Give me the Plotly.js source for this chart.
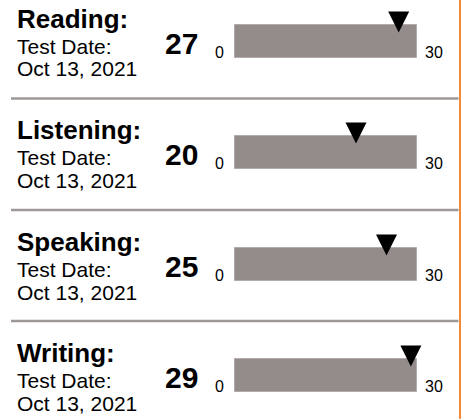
<!DOCTYPE html>
<html>
<head>
<meta charset="utf-8">
<script src="https://cdn.plot.ly/plotly-3.0.1.min.js"></script>
<style>
  html, body { margin: 0; padding: 0; background: #ffffff; }
  #chart { width: 461px; height: 419px; }
</style>
</head>
<body>
<div id="chart"></div>
<script>
// ---- data ----
var skills = ['Reading:', 'Listening:', 'Speaking:', 'Writing:'];
var scores = [27, 20, 25, 29];
var dateLabel = 'Test Date:';
var testDates = ['Oct 13, 2021', 'Oct 13, 2021', 'Oct 13, 2021', 'Oct 13, 2021'];
var scaleMin = 0;
var scaleMax = 30;

// ---- layout helpers ----
var W = 461, H = 419;
var FONT = 'Liberation Sans, Arial, Helvetica, sans-serif';
var barTops = [24, 135, 247, 358];
var barH = 34;
var sepY = [98.5, 210, 321];
function py(px) { return 1 - px / H; }
function px2x(px) { return px / W; }

var traces = [];
var layout = {
  width: W, height: H,
  margin: {l: 0, r: 0, t: 0, b: 0},
  paper_bgcolor: '#ffffff',
  plot_bgcolor: 'rgba(0,0,0,0)',
  showlegend: false,
  bargap: 0,
  annotations: [],
  shapes: []
};

skills.forEach(function (skill, i) {
  var n = i === 0 ? '' : String(i + 1);
  var xa = 'x' + n, ya = 'y' + n;
  var t = barTops[i];
  layout['xaxis' + n] = {
    domain: [px2x(234), px2x(417)],
    range: [scaleMin, scaleMax],
    anchor: ya,
    showgrid: false, zeroline: false, showticklabels: false, showline: false,
    ticks: '', fixedrange: true
  };
  layout['yaxis' + n] = {
    domain: [py(t + barH), py(t)],
    range: [-0.5, 0.5],
    anchor: xa,
    showgrid: false, zeroline: false, showticklabels: false, showline: false,
    ticks: '', fixedrange: true
  };
  traces.push({
    type: 'bar', orientation: 'h',
    x: [scaleMax], y: [0], base: scaleMin, width: 1,
    xaxis: xa, yaxis: ya,
    marker: {color: '#938c8a', line: {color: '#cfcac8', width: 1}},
    hoverinfo: 'skip'
  });
  traces.push({
    type: 'scatter', mode: 'markers',
    x: [scores[i]], y: [0.5 - 8.5 / barH],
    xaxis: xa, yaxis: ya,
    cliponaxis: false,
    marker: {symbol: 'arrow-down', size: 21, color: '#000000', line: {width: 0}},
    hoverinfo: 'skip'
  });

  // texts
  layout.annotations.push({
    xref: 'paper', yref: 'paper', x: px2x(15), y: py(t - 5),
    xanchor: 'left', yanchor: 'middle', showarrow: false,
    text: '<b>' + skill + '</b>', font: {family: FONT, size: 26, color: '#000'}
  });
  layout.annotations.push({
    xref: 'paper', yref: 'paper', x: px2x(15), y: py(t + 22.3),
    xanchor: 'left', yanchor: 'middle', showarrow: false,
    text: dateLabel, font: {family: FONT, size: 21, color: '#000'}
  });
  layout.annotations.push({
    xref: 'paper', yref: 'paper', x: px2x(15), y: py(t + 45),
    xanchor: 'left', yanchor: 'middle', showarrow: false,
    text: testDates[i], font: {family: FONT, size: 21, color: '#000'}
  });
  layout.annotations.push({
    xref: 'paper', yref: 'paper', x: px2x(181), y: py(t + 19.2),
    xanchor: 'center', yanchor: 'middle', showarrow: false,
    text: '<b>' + scores[i] + '</b>', font: {family: FONT, size: 30, color: '#000'}
  });
  layout.annotations.push({
    xref: xa, yref: 'paper', x: scaleMin, xshift: -8, y: py(t + 28.2),
    xanchor: 'right', yanchor: 'middle', showarrow: false,
    text: String(scaleMin), font: {family: FONT, size: 16, color: '#000'}
  });
  layout.annotations.push({
    xref: xa, yref: 'paper', x: scaleMax, xshift: 6, y: py(t + 28),
    xanchor: 'left', yanchor: 'middle', showarrow: false,
    text: String(scaleMax), font: {family: FONT, size: 16, color: '#000'}
  });
});

sepY.forEach(function (y) {
  layout.shapes.push({
    type: 'line', xref: 'paper', yref: 'paper',
    x0: px2x(11), x1: px2x(458.5), y0: py(y), y1: py(y),
    line: {color: '#9e9896', width: 2.5}
  });
});
layout.shapes.push({
  type: 'line', xref: 'paper', yref: 'paper',
  x0: px2x(460), x1: px2x(460), y0: 0, y1: 1,
  line: {color: '#f4893a', width: 2}
});

Plotly.newPlot('chart', traces, layout, {displayModeBar: false, staticPlot: true});
</script>
</body>
</html>
